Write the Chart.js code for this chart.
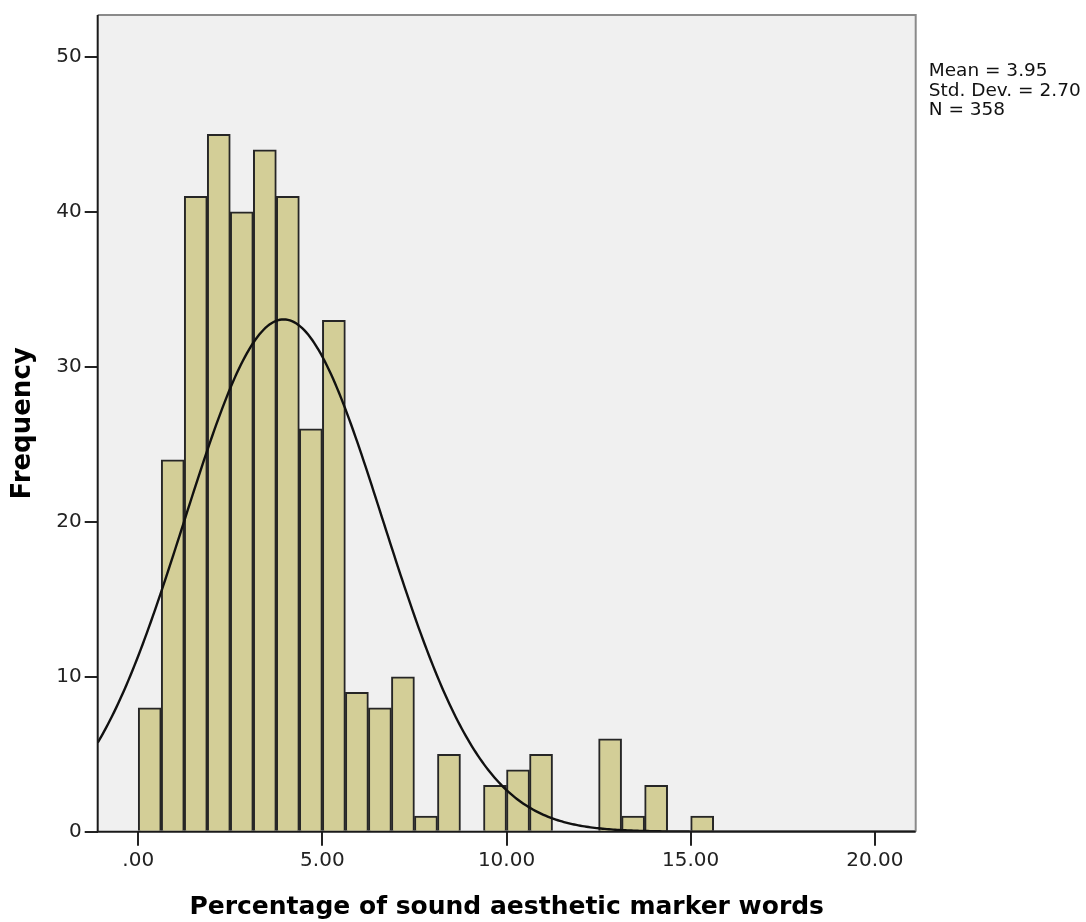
<!DOCTYPE html>
<html>
<head>
<meta charset="utf-8">
<title>Percentage of sound aesthetic marker words</title>
<script src="https://cdn.jsdelivr.net/npm/chart.js@4/dist/chart.umd.min.js"></script>
<style>
  html, body { margin: 0; padding: 0; background: #ffffff; }
  #wrap { width: 1086px; height: 922px; }
</style>
</head>
<body>
<div id="wrap"><canvas id="hist" width="1086" height="922"></canvas></div>
<script>
// Histogram bins: lower edge of the first bin and the common bin width
const binStart = 0;
const binWidth = 0.625;
// Frequency per bin, from .00 upward
const counts = [8, 24, 41, 45, 40, 44, 41, 26, 33, 9, 8, 10, 1, 5, 0, 3, 4, 5, 0, 0, 6, 1, 3, 0, 1];

// Summary statistics printed beside the plot
const statMean = 3.95;
const statSd = 2.70;
const statN = 358;
const statLines = ['Mean = 3.95', 'Std. Dev. = 2.70', 'N = 358'];

// Axis ranges and ticks
const xRange = [-1.10, 21.11];
const xTicks = [0, 5, 10, 15, 20];
const yRange = [0, 52.7];
const yTicks = [0, 10, 20, 30, 40, 50];

const xTitle = 'Percentage of sound aesthetic marker words';
const yTitle = 'Frequency';

// Bars centred on their bins; empty bins are left out
const barData = counts.map((c, i) => ({
  x: binStart + (i + 0.5) * binWidth,
  y: c === 0 ? null : c
}));

// Fitted normal curve, scaled to counts per bin
const curveData = [];
const curveSteps = 400;
for (let k = 0; k <= curveSteps; k++) {
  const x = xRange[0] + (xRange[1] - xRange[0]) * k / curveSteps;
  const z = (x - statMean) / statSd;
  const y = statN * binWidth * Math.exp(-0.5 * z * z) / (statSd * Math.sqrt(2 * Math.PI));
  curveData.push({ x, y });
}

const FONT = "'DejaVu Sans', 'Liberation Sans', Arial, sans-serif";

// Plot background, frame and the statistics block
const framePlugin = {
  id: 'frame',
  beforeDatasetsDraw(chart) {
    const { ctx, chartArea: a } = chart;
    ctx.save();
    ctx.fillStyle = '#f0f0f0';
    ctx.fillRect(a.left, a.top, a.right - a.left, a.bottom - a.top);
    ctx.restore();
  },
  afterDraw(chart) {
    const { ctx, chartArea: a } = chart;
    ctx.save();
    ctx.lineWidth = 2;
    ctx.strokeStyle = '#8a8a8a';
    ctx.beginPath();
    ctx.moveTo(a.left, a.top);
    ctx.lineTo(a.right, a.top);
    ctx.lineTo(a.right, a.bottom);
    ctx.stroke();
    ctx.strokeStyle = '#1a1a1a';
    ctx.beginPath();
    ctx.moveTo(a.left, a.top);
    ctx.lineTo(a.left, a.bottom);
    ctx.lineTo(a.right, a.bottom);
    ctx.stroke();

    ctx.fillStyle = '#111111';
    ctx.font = '18.5px ' + FONT;
    ctx.textAlign = 'left';
    ctx.textBaseline = 'alphabetic';
    statLines.forEach((t, i) => ctx.fillText(t, a.right + 13, 76 + i * 19.5));
    ctx.restore();
  }
};

new Chart(document.getElementById('hist'), {
  type: 'bar',
  data: {
    datasets: [
      {
        type: 'line',
        data: curveData,
        borderColor: '#111111',
        borderWidth: 2.4,
        pointRadius: 0,
        tension: 0,
        fill: false,
        order: 0
      },
      {
        type: 'bar',
        data: barData,
        backgroundColor: '#d3ce97',
        borderColor: '#262626',
        borderWidth: 2,
        borderSkipped: 'bottom',
        barPercentage: 1.0,
        categoryPercentage: 1.0,
        order: 1
      }
    ]
  },
  options: {
    responsive: false,
    animation: false,
    devicePixelRatio: 1,
    layout: { padding: { left: 0, top: 15, right: 170.3, bottom: 0 } },
    plugins: {
      legend: { display: false },
      tooltip: { enabled: false }
    },
    scales: {
      x: {
        type: 'linear',
        min: xRange[0],
        max: xRange[1],
        offset: false,
        afterBuildTicks: s => { s.ticks = xTicks.map(v => ({ value: v })); },
        afterFit: s => { s.height = 90.3; },
        border: { display: false },
        grid: {
          offset: false,
          drawOnChartArea: false,
          drawTicks: true,
          tickLength: 14,
          color: '#222222',
          lineWidth: 2
        },
        ticks: {
          padding: 3,
          color: '#222222',
          font: { family: FONT, size: 20 },
          maxRotation: 0,
          callback: v => (v === 0 ? '.00' : v.toFixed(2))
        },
        title: {
          display: true,
          text: xTitle,
          color: '#000000',
          font: { family: FONT, size: 25, weight: 'bold' },
          padding: { top: 0, bottom: 0 }
        }
      },
      y: {
        type: 'linear',
        min: yRange[0],
        max: yRange[1],
        afterBuildTicks: s => { s.ticks = yTicks.map(v => ({ value: v })); },
        afterFit: s => { s.width = 97.7; },
        border: { display: false },
        grid: {
          drawOnChartArea: false,
          drawTicks: true,
          tickLength: 13,
          color: '#222222',
          lineWidth: 2
        },
        ticks: {
          padding: 3,
          color: '#222222',
          font: { family: FONT, size: 20 },
          callback: v => String(v)
        },
        title: {
          display: true,
          text: yTitle,
          color: '#000000',
          font: { family: FONT, size: 26, weight: 'bold' },
          padding: { top: 8, bottom: 0 }
        }
      }
    }
  },
  plugins: [framePlugin]
});
</script>
</body>
</html>
